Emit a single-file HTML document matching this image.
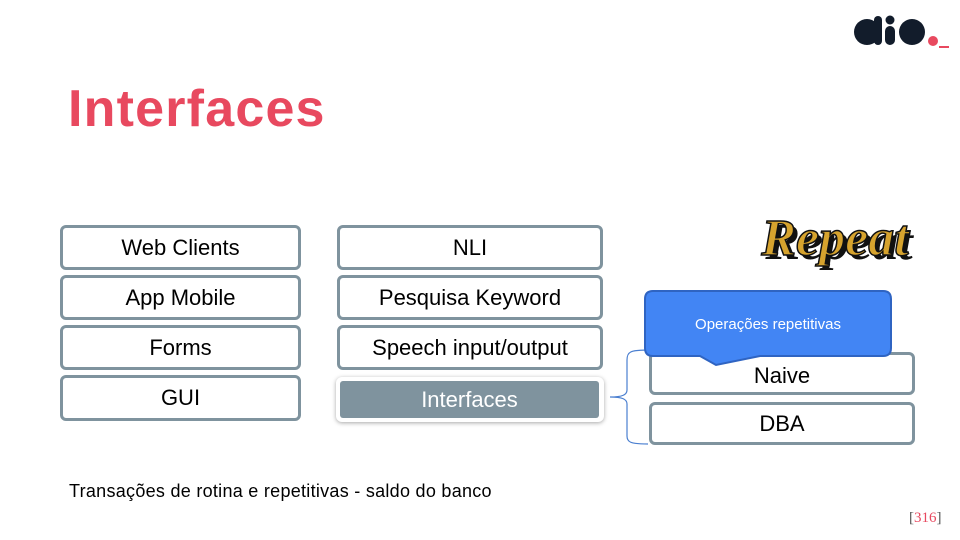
<!DOCTYPE html>
<html><head><meta charset="utf-8"><style>
body{margin:0;width:960px;height:540px;background:#fff;position:relative;overflow:hidden;font-family:"Liberation Sans",sans-serif}
.b{position:absolute;box-sizing:border-box;border:3px solid #7f939e;border-radius:6px;background:#fff;display:flex;align-items:center;justify-content:center;font-size:22px;color:#000}
</style></head><body>
<div style="position:absolute;left:68px;top:79px;font-size:52px;letter-spacing:1.2px;font-weight:bold;color:#e8495f">Interfaces</div>
<svg style="position:absolute;left:850px;top:12px" width="100" height="40">
<circle cx="17" cy="20" r="13" fill="#121c2b"/><rect x="24" y="4" width="8" height="29" rx="4" fill="#121c2b"/>
<circle cx="40" cy="8" r="4.5" fill="#121c2b"/><rect x="35" y="14" width="10" height="19" rx="5" fill="#121c2b"/>
<circle cx="62" cy="20" r="13" fill="#121c2b"/><circle cx="83" cy="29" r="5" fill="#e8495f"/><rect x="89" y="34" width="10" height="2" fill="#e8495f"/>
</svg>
<div class="b" style="left:60px;top:225px;width:241px;height:45px">Web Clients</div>
<div class="b" style="left:60px;top:275px;width:241px;height:45px">App Mobile</div>
<div class="b" style="left:60px;top:325px;width:241px;height:45px">Forms</div>
<div class="b" style="left:60px;top:375px;width:241px;height:46px">GUI</div>
<div class="b" style="left:337px;top:225px;width:266px;height:45px">NLI</div>
<div class="b" style="left:337px;top:275px;width:266px;height:45px">Pesquisa Keyword</div>
<div class="b" style="left:337px;top:325px;width:266px;height:45px">Speech input/output</div>
<div style="position:absolute;left:336px;top:377px;width:268px;height:45px;border-radius:6px;background:#fff;box-shadow:0 1px 4px rgba(0,0,0,.35)"></div>
<div style="position:absolute;left:340px;top:381px;width:259px;height:37px;background:#7f939e;border-radius:3px;color:#fff;font-size:22px;display:flex;align-items:center;justify-content:center">Interfaces</div>
<div class="b" style="left:649px;top:352px;width:266px;height:43px;padding-top:4px">Naive</div>
<div class="b" style="left:649px;top:402px;width:266px;height:43px">DBA</div>
<svg style="position:absolute;left:0;top:0" width="960" height="540">
<path d="M648 350 C630 350 627 352 627 360 L627 390 C627 395 622 397 610 397 C622 397 627 399 627 404 L627 436 C627 442 630 444 648 444" fill="none" stroke="#4a7fd0" stroke-width="1.2"/>
<path d="M653 291 L883 291 Q891 291 891 299 L891 348 Q891 356 883 356 L760 356 L716 365 L700 356 L653 356 Q645 356 645 348 L645 299 Q645 291 653 291 Z" fill="#4285f4" stroke="#2f64c2" stroke-width="2"/>
<text x="768" y="329" font-family="Liberation Sans,sans-serif" font-size="15" fill="#fff" text-anchor="middle">Operações repetitivas</text>
<text x="839" y="259" font-family="Liberation Serif,serif" font-size="52" font-weight="bold" font-style="italic" fill="#111" text-anchor="middle">Repeat</text>
<text x="835" y="255" font-family="Liberation Serif,serif" font-size="52" font-weight="bold" font-style="italic" fill="#d6a32e" stroke="#111" stroke-width="1.5" text-anchor="middle">Repeat</text>
</svg>
<div style="position:absolute;left:69px;top:481px;font-size:18px;letter-spacing:0.28px;color:#000">Transações de rotina e repetitivas - saldo do banco</div>
<div style="position:absolute;left:909px;top:510px;font-size:15px;color:#555;font-family:'Liberation Serif',serif">[<span style="color:#e8495f">316</span>]</div>
</body></html>
